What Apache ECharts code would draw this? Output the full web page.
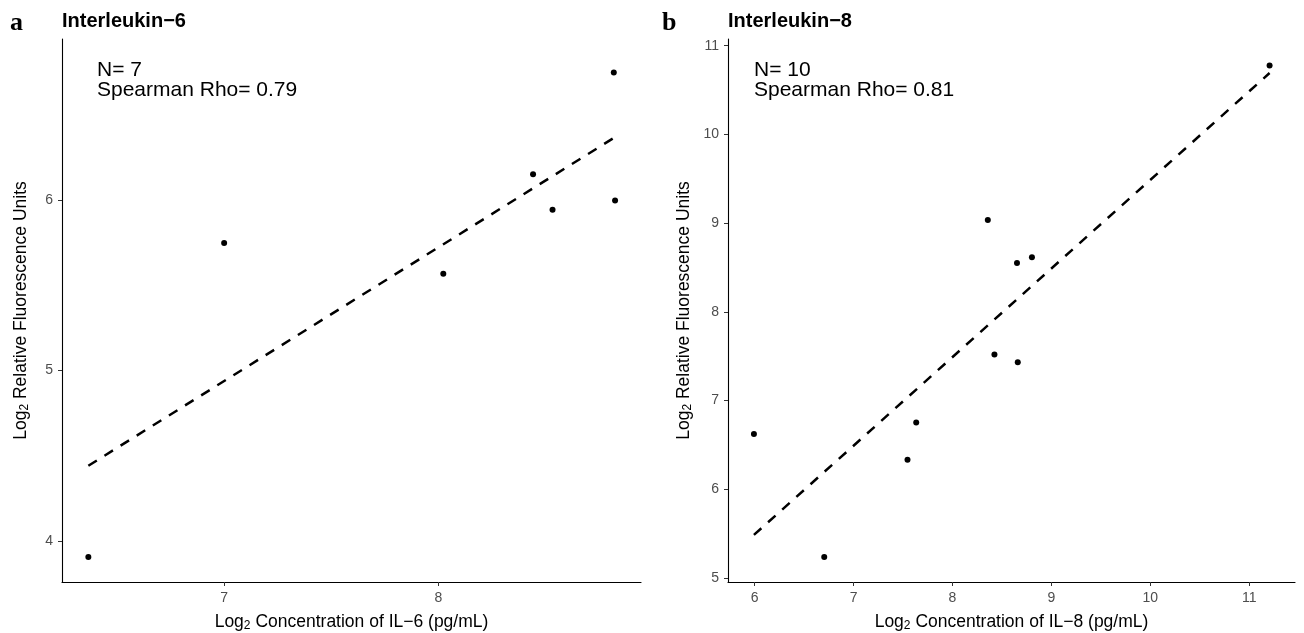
<!DOCTYPE html>
<html>
<head>
<meta charset="utf-8">
<title>Interleukin-6 / Interleukin-8</title>
<script src="https://cdn.jsdelivr.net/npm/echarts@6/dist/echarts.min.js"></script>
<style>
  html, body { margin: 0; padding: 0; background: #fff; }
  #chart { width: 1304px; height: 633px; }
</style>
</head>
<body>
<div id="chart"></div>
<script>
// panel a: IL-6 (log2 concentration vs log2 RFU)
const il6Conc = [6.366, 7.0, 8.023, 8.442, 8.533, 8.819, 8.825]
const il6Rfu = [3.906, 5.747, 5.567, 6.151, 5.943, 6.748, 5.996]
// panel b: IL-8
const il8Conc = [5.992, 6.703, 7.545, 7.633, 8.357, 8.424, 8.652, 8.660, 8.803, 11.206]
const il8Rfu = [6.624, 5.236, 6.334, 6.752, 9.037, 7.519, 8.552, 7.432, 8.616, 10.778]

const il6XTicks = [7, 8]
const il6YTicks = [4, 5, 6]
const il8XTicks = [6, 7, 8, 9, 10, 11]
const il8YTicks = [5, 6, 7, 8, 9, 10, 11]

const panelLetters = ['a', 'b']
const panelTitles = ['Interleukin−6', 'Interleukin−8']
const analytes = ['IL−6', 'IL−8']
const sampleSizes = [7, 10]
const spearmanRho = ['0.79', '0.81']

const font = 'Liberation Sans, Arial, Helvetica, sans-serif'
const serif = 'Liberation Serif, Times New Roman, serif'

// least squares line over the data range (like geom_smooth(method = 'lm'))
function lmLine (xs, ys) {
  const n = xs.length
  const mx = xs.reduce((a, b) => a + b, 0) / n
  const my = ys.reduce((a, b) => a + b, 0) / n
  let sxy = 0
  let sxx = 0
  xs.forEach((x, i) => {
    sxy += (x - mx) * (ys[i] - my)
    sxx += (x - mx) * (x - mx)
  })
  const slope = sxy / sxx
  const x0 = Math.min(...xs)
  const x1 = Math.max(...xs)
  return [[x0, my + slope * (x0 - mx)], [x1, my + slope * (x1 - mx)]]
}

const nameRich = {
  t: { fontSize: 17.5, fontFamily: font, color: '#000', lineHeight: 20 },
  s: { fontSize: 12, fontFamily: font, color: '#000', lineHeight: 8, verticalAlign: 'bottom' }
}

function axisOf (gridIndex, min, max, ticks, name, nameGap) {
  return {
    type: 'value',
    gridIndex: gridIndex,
    min: min,
    max: max,
    splitLine: { show: false },
    axisLine: { onZero: false, lineStyle: { color: '#000', width: 1.1 } },
    axisTick: { customValues: ticks, length: 4, lineStyle: { color: '#333', width: 1 } },
    axisLabel: { customValues: ticks, color: '#4d4d4d', fontSize: 14, fontFamily: font, margin: 9 },
    name: name,
    nameLocation: 'middle',
    nameGap: nameGap,
    nameTextStyle: { rich: nameRich }
  }
}

const yName = '{t|Log}{s|2}{t| Relative Fluorescence Units}'
const xName = a => '{t|Log}{s|2}{t| Concentration of ' + a + ' (pg/mL)}'

const grids = [
  { left: 62, top: 39, width: 579, height: 543, containLabel: false, outerBoundsMode: 'none' },
  { left: 728, top: 39, width: 567, height: 543, containLabel: false, outerBoundsMode: 'none' }
]

function scatter (i, xs, ys) {
  return {
    type: 'scatter',
    xAxisIndex: i,
    yAxisIndex: i,
    symbolSize: 6,
    itemStyle: { color: '#000', opacity: 1 },
    data: xs.map((x, k) => [x, ys[k]]),
    z: 3
  }
}

function fit (i, xs, ys) {
  return {
    type: 'line',
    xAxisIndex: i,
    yAxisIndex: i,
    showSymbol: false,
    lineStyle: { color: '#000', width: 2.5, type: [10, 9] },
    data: lmLine(xs, ys),
    z: 2
  }
}

function annotation (i) {
  return {
    type: 'text',
    left: grids[i].left + (i === 0 ? 35 : 26),
    top: 60,
    style: {
      text: 'N= ' + sampleSizes[i] + '\nSpearman Rho= ' + spearmanRho[i],
      fontSize: 21,
      fontFamily: font,
      lineHeight: 20,
      fill: '#000'
    }
  }
}

const chart = echarts.init(document.getElementById('chart'))
chart.setOption({
  animation: false,
  backgroundColor: '#fff',
  title: [
    { text: panelLetters[0], left: 10, top: 10, padding: 0, textStyle: { fontFamily: serif, fontWeight: 'bold', fontSize: 26, color: '#000' } },
    { text: panelTitles[0], left: 62, top: 11, padding: 0, textStyle: { fontFamily: font, fontWeight: 'bold', fontSize: 20, color: '#000' } },
    { text: panelLetters[1], left: 662, top: 10, padding: 0, textStyle: { fontFamily: serif, fontWeight: 'bold', fontSize: 26, color: '#000' } },
    { text: panelTitles[1], left: 728, top: 11, padding: 0, textStyle: { fontFamily: font, fontWeight: 'bold', fontSize: 20, color: '#000' } }
  ],
  grid: grids,
  xAxis: [
    axisOf(0, 6.243, 8.946, il6XTicks, xName(analytes[0]), 30),
    axisOf(1, 5.730, 11.463, il8XTicks, xName(analytes[1]), 30)
  ],
  yAxis: [
    axisOf(0, 3.759, 6.944, il6YTicks, yName, 31),
    axisOf(1, 4.955, 11.076, il8YTicks, yName, 34)
  ],
  series: [
    fit(0, il6Conc, il6Rfu),
    scatter(0, il6Conc, il6Rfu),
    fit(1, il8Conc, il8Rfu),
    scatter(1, il8Conc, il8Rfu)
  ],
  graphic: [annotation(0), annotation(1)]
})
</script>
</body>
</html>
